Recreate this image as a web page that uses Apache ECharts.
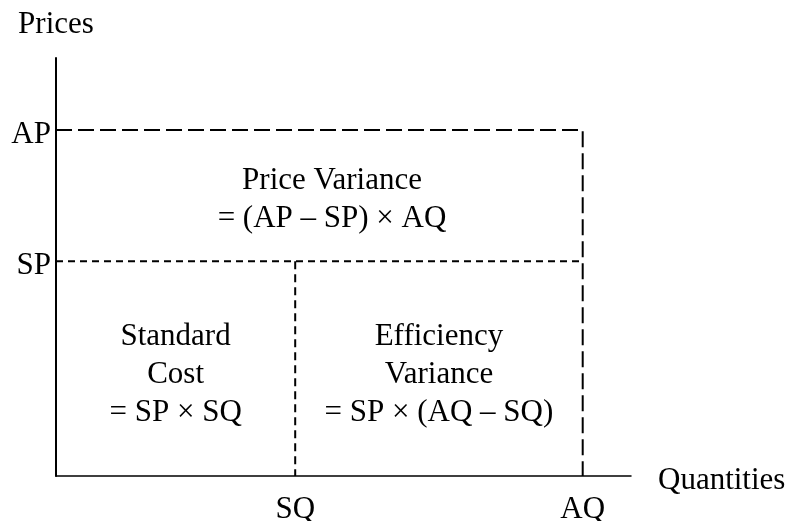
<!DOCTYPE html>
<html>
<head>
<meta charset="utf-8">
<script src="https://cdn.jsdelivr.net/npm/echarts@6/dist/echarts.min.js"></script>
<style>
  html, body { margin: 0; padding: 0; background: #fff; }
  #main { width: 798px; height: 521px; }
</style>
</head>
<body>
<div id="main"></div>
<script>
// 数据
var qtyNames = ['SQ', 'AQ'];
var qtyValues = [41.6, 91.6];
var priceNames = ['AP', 'SP'];
var priceValues = [82.8, 51.4];

var priceVarText = ['Price Variance', '= (AP \u2013 SP) \u00d7 AQ'];
var stdCostText = ['Standard', 'Cost', '= SP \u00d7 SQ'];
var effVarText = ['Efficiency', 'Variance', '= SP \u00d7 (AQ \u2013 SQ)'];

var SQ = qtyValues[0], AQ = qtyValues[1];
var AP = priceValues[0], SP = priceValues[1];

var serif = '"Liberation Serif", "DejaVu Serif", serif';
var fs = 31;

function nameOf(names, values, v) {
    for (var i = 0; i < values.length; i++) {
        if (Math.abs(values[i] - v) < 1e-6) return names[i];
    }
    return '';
}

var chart = echarts.init(document.getElementById('main'));
var option = {
    animation: false,
    grid: {
        left: 56,
        top: 58,
        right: 167,
        bottom: 45,
        outerBoundsMode: 'none'
    },
    xAxis: {
        type: 'value',
        min: 0,
        max: 100,
        name: 'Quantities',
        nameLocation: 'end',
        nameGap: 27,
        nameTextStyle: {
            fontFamily: serif,
            fontSize: fs,
            color: '#000',
            verticalAlign: 'top',
            lineHeight: 9
        },
        axisLine: { show: true, lineStyle: { color: '#000', width: 1.5 } },
        axisTick: { show: false },
        splitLine: { show: false },
        axisLabel: {
            customValues: qtyValues,
            margin: 18,
            fontFamily: serif,
            fontSize: fs,
            color: '#000',
            formatter: function (v) { return nameOf(qtyNames, qtyValues, v); }
        }
    },
    yAxis: {
        type: 'value',
        min: 0,
        max: 100,
        name: 'Prices',
        nameLocation: 'end',
        nameGap: 18,
        nameTextStyle: {
            fontFamily: serif,
            fontSize: fs,
            color: '#000'
        },
        axisLine: { show: true, lineStyle: { color: '#000', width: 2 } },
        axisTick: { show: false },
        splitLine: { show: false },
        axisLabel: {
            customValues: priceValues,
            margin: 5,
            fontFamily: serif,
            fontSize: fs,
            color: '#000',
            verticalAlign: 'top',
            lineHeight: 10,
            formatter: function (v) { return nameOf(priceNames, priceValues, v); }
        }
    },
    series: [
        {
            // AP 虚线 + AQ 竖线
            type: 'line',
            symbol: 'none',
            lineStyle: { color: '#000', width: 2, type: [16, 6] },
            data: [[0, AP], [AQ, AP], [AQ, 0]]
        },
        {
            // SP 虚线
            type: 'line',
            symbol: 'none',
            lineStyle: { color: '#000', width: 2, type: [7, 5] },
            data: [[0, SP], [AQ, SP]]
        },
        {
            // SQ 竖线
            type: 'line',
            symbol: 'none',
            lineStyle: { color: '#000', width: 2, type: [8, 5] },
            data: [[SQ, SP], [SQ, 0]]
        },
        {
            // 区域文字
            type: 'scatter',
            symbolSize: 0,
            itemStyle: { opacity: 1 },
            label: {
                show: true,
                position: 'inside',
                fontFamily: serif,
                fontSize: fs,
                lineHeight: 38,
                color: '#000',
                opacity: 1,
                align: 'center',
                verticalAlign: 'middle',
                formatter: function (p) { return p.data.text.join('\n'); }
            },
            data: [
                { value: [AQ / 2 + 2.2, (AP + SP) / 2 - 1.1], text: priceVarText },
                { value: [SQ / 2, SP / 2 - 1.6], text: stdCostText },
                { value: [(SQ + AQ) / 2, SP / 2 - 1.6], text: effVarText }
            ]
        }
    ]
};
chart.setOption(option);
</script>
</body>
</html>
